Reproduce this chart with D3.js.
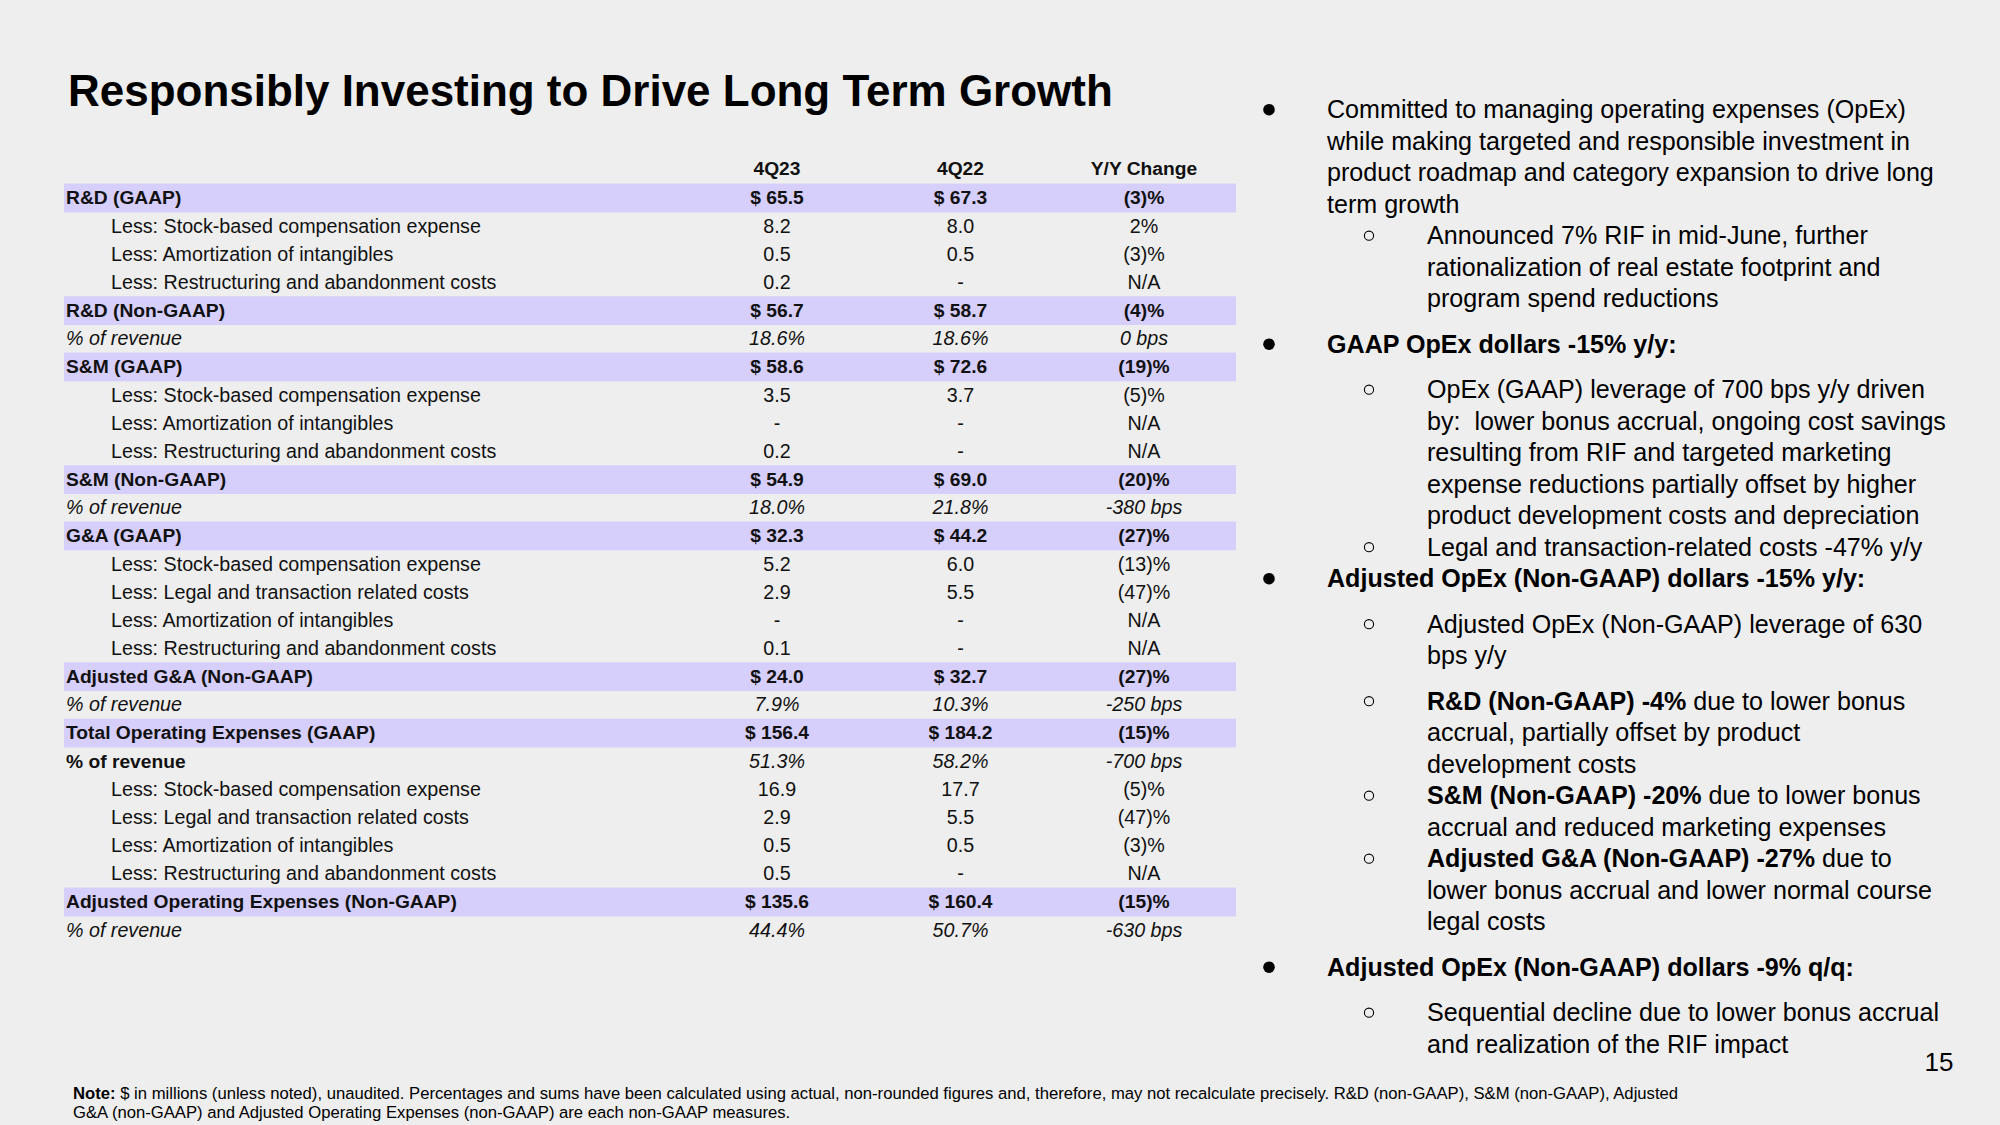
<!DOCTYPE html>
<html><head><meta charset="utf-8">
<script src="https://cdn.jsdelivr.net/npm/d3@7"></script>
<style>html,body{margin:0;padding:0;background:#eeeeee;} svg{display:block}</style>
</head>
<body>
<svg id="c" width="2000" height="1125"></svg>
<script>
// ---------- DATA ----------
const title = "Responsibly Investing to Drive Long Term Growth";
const columns = ["4Q23", "4Q22", "Y/Y Change"];
const rowLabels = [
  "R&D (GAAP)",
  "Less: Stock-based compensation expense",
  "Less: Amortization of intangibles",
  "Less: Restructuring and abandonment costs",
  "R&D (Non-GAAP)",
  "% of revenue",
  "S&M (GAAP)",
  "Less: Stock-based compensation expense",
  "Less: Amortization of intangibles",
  "Less: Restructuring and abandonment costs",
  "S&M (Non-GAAP)",
  "% of revenue",
  "G&A (GAAP)",
  "Less: Stock-based compensation expense",
  "Less: Legal and transaction related costs",
  "Less: Amortization of intangibles",
  "Less: Restructuring and abandonment costs",
  "Adjusted G&A (Non-GAAP)",
  "% of revenue",
  "Total Operating Expenses (GAAP)",
  "% of revenue",
  "Less: Stock-based compensation expense",
  "Less: Legal and transaction related costs",
  "Less: Amortization of intangibles",
  "Less: Restructuring and abandonment costs",
  "Adjusted Operating Expenses (Non-GAAP)",
  "% of revenue"
];
// band = highlighted bold row, sub = indented, pct = italic percent row, pctBold = bold label / italic values
const rowKinds = [
  "band","sub","sub","sub","band","pct",
  "band","sub","sub","sub","band","pct",
  "band","sub","sub","sub","sub","band","pct",
  "band","pctBold","sub","sub","sub","sub","band","pct"
];
const values4Q23 = [
  "$ 65.5","8.2","0.5","0.2","$ 56.7","18.6%",
  "$ 58.6","3.5","-","0.2","$ 54.9","18.0%",
  "$ 32.3","5.2","2.9","-","0.1","$ 24.0","7.9%",
  "$ 156.4","51.3%","16.9","2.9","0.5","0.5","$ 135.6","44.4%"
];
const values4Q22 = [
  "$ 67.3","8.0","0.5","-","$ 58.7","18.6%",
  "$ 72.6","3.7","-","-","$ 69.0","21.8%",
  "$ 44.2","6.0","5.5","-","-","$ 32.7","10.3%",
  "$ 184.2","58.2%","17.7","5.5","0.5","-","$ 160.4","50.7%"
];
const yoyChange = [
  "(3)%","2%","(3)%","N/A","(4)%","0 bps",
  "(19)%","(5)%","N/A","N/A","(20)%","-380 bps",
  "(27)%","(13)%","(47)%","N/A","N/A","(27)%","-250 bps",
  "(15)%","-700 bps","(5)%","(47)%","(3)%","N/A","(15)%","-630 bps"
];

// Commentary bullets: level 1 = filled bullet, 2 = hollow bullet.
const bulletLevels = [1, 2, 1, 2, 2, 1, 2, 2, 2, 2, 1, 2];
const bulletGapBefore = [0, 0, 1, 1, 0, 0, 1, 1, 0, 0, 1, 1];
const bulletLines = [
  [[["Committed to managing operating expenses (OpEx)", 0]],
   [["while making targeted and responsible investment in", 0]],
   [["product roadmap and category expansion to drive long", 0]],
   [["term growth", 0]]],
  [[["Announced 7% RIF in mid-June, further", 0]],
   [["rationalization of real estate footprint and", 0]],
   [["program spend reductions", 0]]],
  [[["GAAP OpEx dollars -15% y/y:", 1]]],
  [[["OpEx (GAAP) leverage of 700 bps y/y driven", 0]],
   [["by:  lower bonus accrual, ongoing cost savings", 0]],
   [["resulting from RIF and targeted marketing", 0]],
   [["expense reductions partially offset by higher", 0]],
   [["product development costs and depreciation", 0]]],
  [[["Legal and transaction-related costs -47% y/y", 0]]],
  [[["Adjusted OpEx (Non-GAAP) dollars -15% y/y:", 1]]],
  [[["Adjusted OpEx (Non-GAAP) leverage of 630", 0]],
   [["bps y/y", 0]]],
  [[["R&D (Non-GAAP) -4%", 1], [" due to lower bonus", 0]],
   [["accrual, partially offset by product", 0]],
   [["development costs", 0]]],
  [[["S&M (Non-GAAP) -20%", 1], [" due to lower bonus", 0]],
   [["accrual and reduced marketing expenses", 0]]],
  [[["Adjusted G&A (Non-GAAP) -27%", 1], [" due to", 0]],
   [["lower bonus accrual and lower normal course", 0]],
   [["legal costs", 0]]],
  [[["Adjusted OpEx (Non-GAAP) dollars -9% q/q:", 1]]],
  [[["Sequential decline due to lower bonus accrual", 0]],
   [["and realization of the RIF impact", 0]]]
];
const noteLines = [
  [["Note:", 1], [" $ in millions (unless noted), unaudited. Percentages and sums have been calculated using actual, non-rounded figures and, therefore, may not recalculate precisely. R&D (non-GAAP), S&M (non-GAAP), Adjusted", 0]],
  [["G&A (non-GAAP) and Adjusted Operating Expenses (non-GAAP) are each non-GAAP measures.", 0]]
];
const pageNumber = "15";

// ---------- LAYOUT ----------
const FONT = "'Liberation Sans', Arial, Helvetica, sans-serif";
const svg = d3.select("#c");
svg.append("rect").attr("width", 2000).attr("height", 1125).attr("fill", "#eeeeee");

function fitSize(text, weight, target) {
  const t = svg.append("text").attr("font-family", FONT).attr("font-weight", weight)
    .attr("font-size", 100).text(text);
  const w = t.node().getComputedTextLength();
  t.remove();
  return 100 * target / w;
}

// Title
const titleSize = fitSize(title, 700, 1045);
svg.append("text").attr("x", 68).attr("y", 106)
  .attr("font-family", FONT).attr("font-weight", 700).attr("font-size", titleSize)
  .attr("fill", "#000").text(title);

// Table
const tblSize = fitSize("Less: Stock-based compensation expense", 400, 370);
const tblBoldSize = fitSize("Adjusted Operating Expenses (Non-GAAP)", 700, 391);
const rowStep = 28.16;
const top0 = 197.7 - rowStep / 2;
const y = d3.scaleBand().domain(d3.range(rowLabels.length))
  .range([top0, top0 + rowStep * rowLabels.length]).padding(0);
const x = d3.scalePoint().domain(columns).range([777, 1144]);
const tableLeft = 64, tableRight = 1236;

const g = svg.append("g").attr("font-family", FONT).attr("font-size", tblSize).attr("fill", "#111");

// header
g.selectAll("text.hdr").data(columns).join("text").attr("class", "hdr")
  .attr("x", d => x(d)).attr("y", 168.4).attr("dy", "0.35em")
  .attr("text-anchor", "middle").attr("font-weight", 700).attr("font-size", tblBoldSize).text(d => d);

const rows = g.selectAll("g.row").data(rowLabels.map((l, i) => ({
  label: l, kind: rowKinds[i], vals: [values4Q23[i], values4Q22[i], yoyChange[i]], i
}))).join("g").attr("class", "row")
  .attr("transform", d => `translate(0,${y(d.i)})`);

rows.filter(d => d.kind === "band").append("rect")
  .attr("x", tableLeft).attr("width", tableRight - tableLeft)
  .attr("y", 0).attr("height", y.bandwidth() + 0.6)
  .attr("fill", "#d6cefb");

rows.append("text")
  .attr("x", d => d.kind === "sub" ? 111 : 66)
  .attr("y", y.bandwidth() / 2).attr("dy", "0.35em")
  .attr("font-weight", d => (d.kind === "band" || d.kind === "pctBold") ? 700 : 400)
  .attr("font-size", d => (d.kind === "band" || d.kind === "pctBold") ? tblBoldSize : tblSize)
  .attr("font-style", d => d.kind === "pct" ? "italic" : "normal")
  .text(d => d.label);

rows.each(function (d) {
  d3.select(this).selectAll("text.v").data(d.vals.map((v, j) => ({ v, col: columns[j], kind: d.kind })))
    .join("text").attr("class", "v")
    .attr("x", e => x(e.col)).attr("y", y.bandwidth() / 2).attr("dy", "0.35em")
    .attr("text-anchor", "middle")
    .attr("font-weight", e => e.kind === "band" ? 700 : 400)
    .attr("font-size", e => e.kind === "band" ? tblBoldSize : tblSize)
    .attr("font-style", e => (e.kind === "pct" || e.kind === "pctBold") ? "italic" : "normal")
    .text(e => e.v);
});

// Right-side commentary
const rSize = fitSize("Committed to managing operating expenses (OpEx)", 400, 579);
const lineH = 31.5, gapExtra = 14;
let cy = 109.7;
const rg = svg.append("g").attr("font-family", FONT).attr("font-size", rSize).attr("fill", "#000");
bulletLines.forEach((lines, k) => {
  if (k > 0) cy += lineH + (bulletGapBefore[k] ? gapExtra : 0);
  const lvl = bulletLevels[k];
  if (lvl === 1) {
    rg.append("circle").attr("cx", 1269).attr("cy", cy).attr("r", 5.8).attr("fill", "#000");
  } else {
    rg.append("circle").attr("cx", 1369).attr("cy", cy).attr("r", 4.6)
      .attr("fill", "none").attr("stroke", "#000").attr("stroke-width", 1.1);
  }
  const tx = lvl === 1 ? 1327 : 1427;
  lines.forEach((segs, li) => {
    if (li > 0) cy += lineH;
    const t = rg.append("text").attr("x", tx).attr("y", cy).attr("dy", "0.35em")
      .style("white-space", "pre");
    segs.forEach(([s, b]) => t.append("tspan").attr("font-weight", b ? 700 : 400).text(s));
  });
});

// Note
const noteSize = fitSize(noteLines[0].map(s => s[0]).join(""), 400, 1604);
const ng = svg.append("g").attr("font-family", FONT).attr("font-size", noteSize).attr("fill", "#000");
noteLines.forEach((segs, li) => {
  const t = ng.append("text").attr("x", 73).attr("y", 1093 + li * 19.5).attr("dy", "0.35em");
  segs.forEach(([s, b]) => t.append("tspan").attr("font-weight", b ? 700 : 400).text(s));
});

// Page number
svg.append("text").attr("x", 1939).attr("y", 1062).attr("dy", "0.35em")
  .attr("text-anchor", "middle").attr("font-family", FONT).attr("font-size", 26)
  .attr("fill", "#000").text(pageNumber);
</script>
</body></html>
